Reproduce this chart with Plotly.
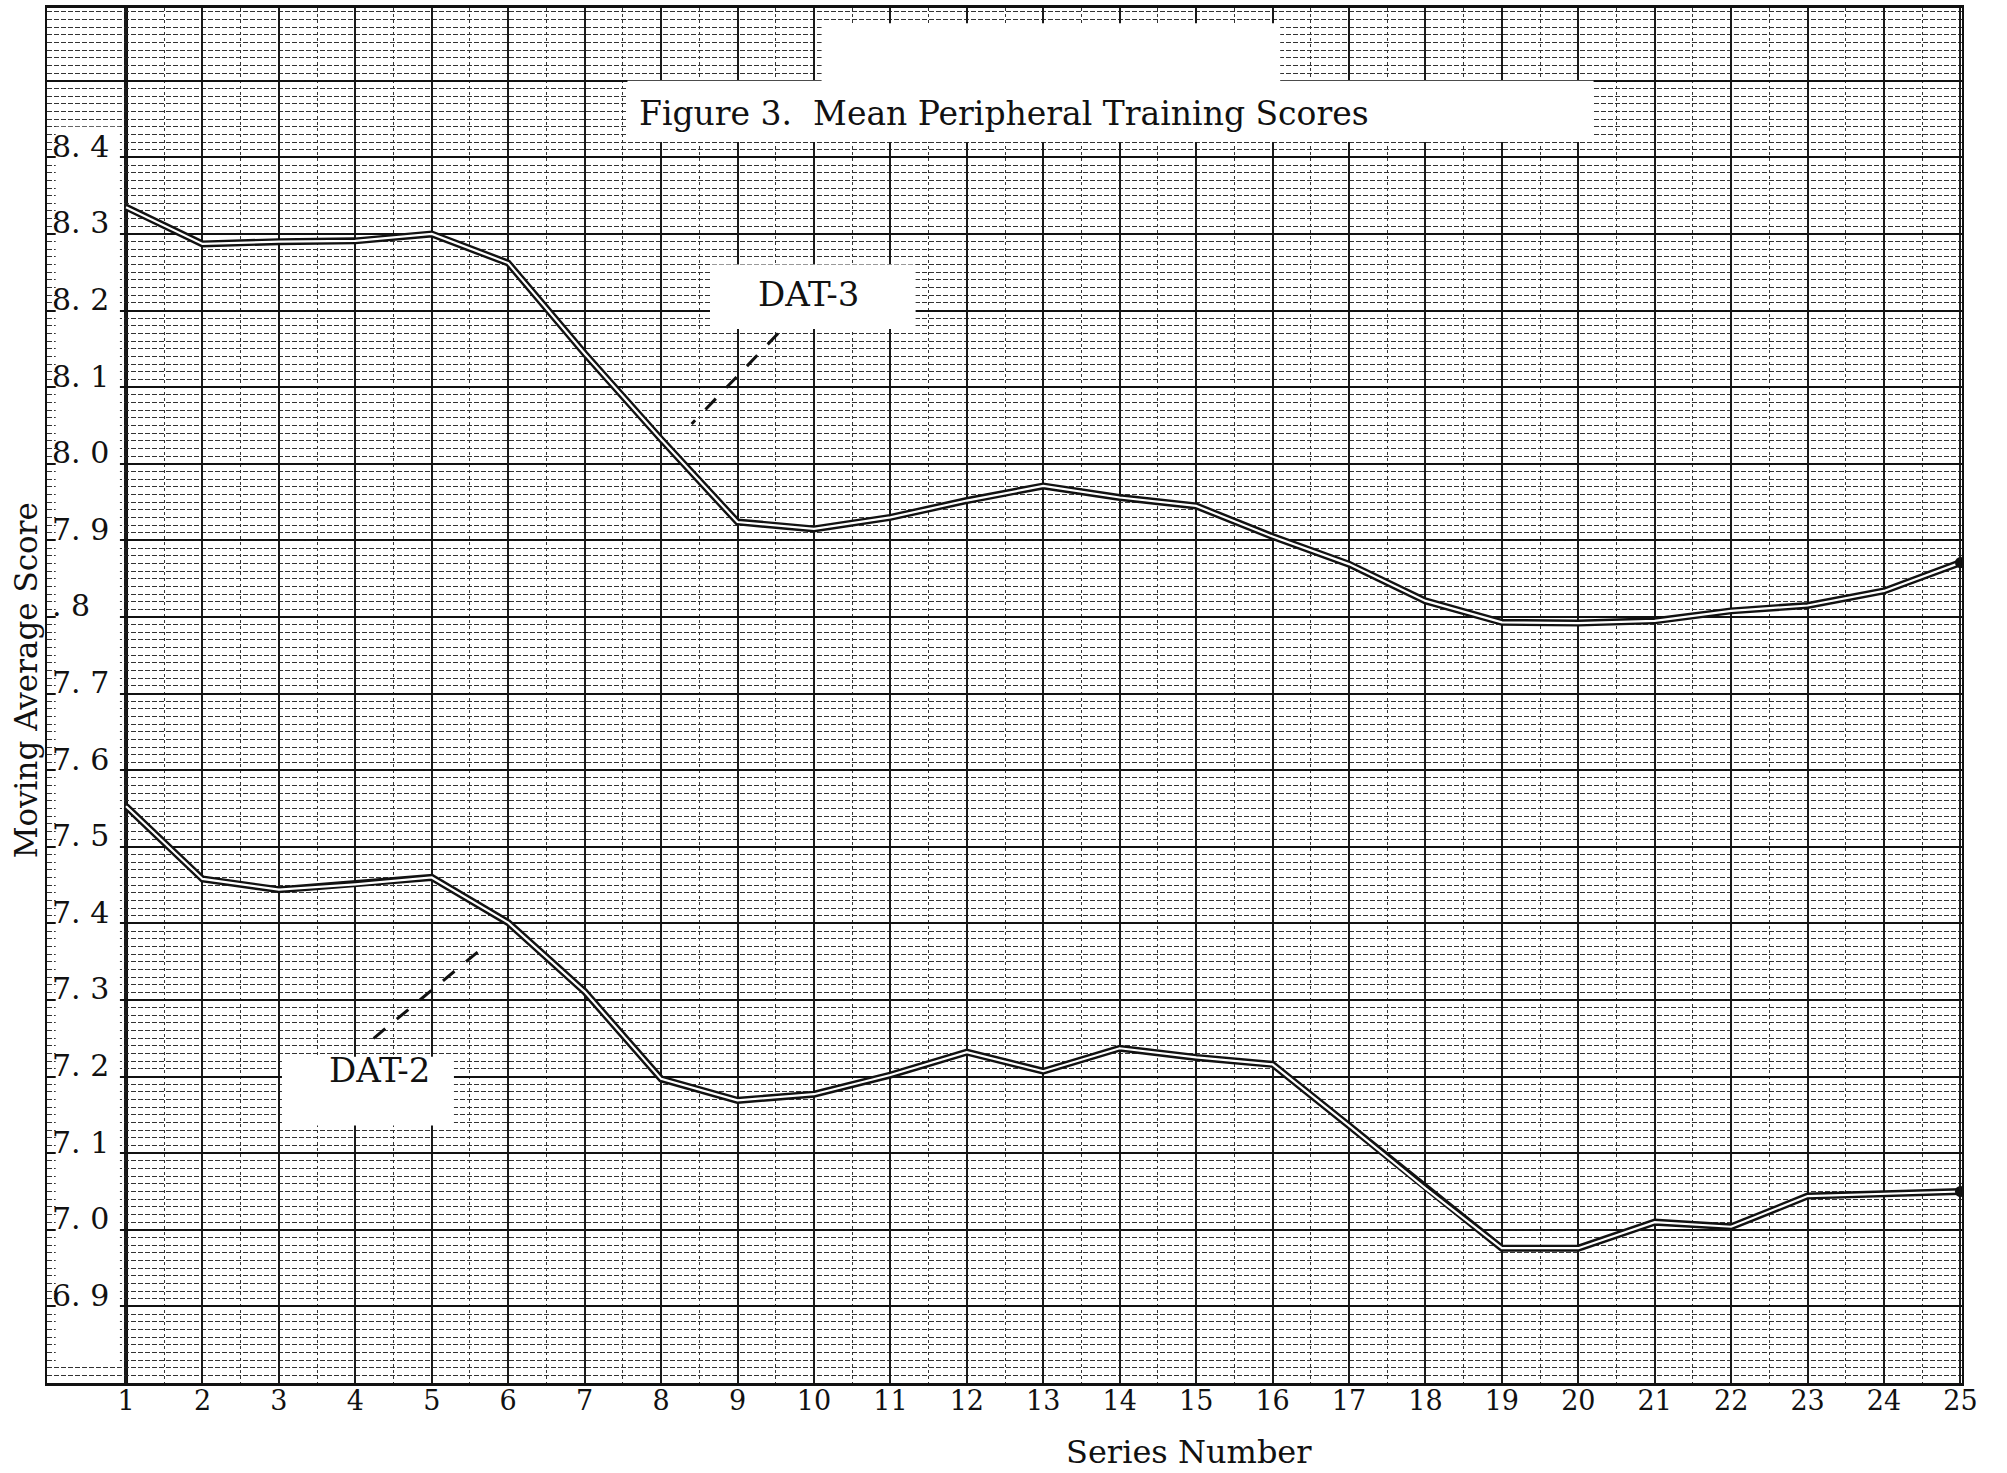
import plotly.graph_objects as go

# ---- data ----
series = list(range(1, 26))
series_labels = [str(s) for s in series]
dat3 = [8.335, 8.287, 8.290, 8.291, 8.300, 8.262, 8.144, 8.032, 7.924, 7.915,
        7.930, 7.952, 7.971, 7.956, 7.945, 7.905, 7.869, 7.821, 7.793, 7.792,
        7.795, 7.808, 7.815, 7.834, 7.871]
dat2 = [7.553, 7.458, 7.444, 7.451, 7.460, 7.401, 7.311, 7.197, 7.169, 7.177,
        7.202, 7.232, 7.207, 7.237, 7.225, 7.216, 7.136, 7.054, 6.976, 6.976,
        7.010, 7.004, 7.044, 7.047, 7.050]
y_tickvals = [6.8, 6.9, 7.0, 7.1, 7.2, 7.3, 7.4, 7.5, 7.6, 7.7, 7.8, 7.9,
              8.0, 8.1, 8.2, 8.3, 8.4, 8.5]
y_ticktext = ["", "6. 9", "7. 0", "7. 1", "7. 2", "7. 3", "7. 4", "7. 5", "7. 6",
              "7. 7", ". 8", "7. 9", "8. 0", "8. 1", "8. 2", "8. 3", "8. 4", ""]

FONT = "DejaVu Serif"
INK = "#111111"
X_RANGE = [-0.034, 25.02]
Y_RANGE = [6.80, 8.595]

fig = go.Figure()

for ys in (dat3, dat2):
    fig.add_trace(go.Scatter(x=series, y=ys, mode="lines",
                             line=dict(color=INK, width=7), hoverinfo="skip",
                             showlegend=False))
    fig.add_trace(go.Scatter(x=series, y=ys, mode="lines",
                             line=dict(color="white", width=2.2), hoverinfo="skip",
                             showlegend=False))
    fig.add_trace(go.Scatter(x=[series[-1]], y=[ys[-1]], mode="markers",
                             marker=dict(color=INK, size=11), hoverinfo="skip",
                             showlegend=False))

shapes = []
# white-out strip behind the y labels
shapes.append(dict(type="rect", xref="x", yref="y", x0=0.08, x1=0.92,
                   y0=6.826, y1=8.44,
                   fillcolor="white", line=dict(width=0), layer="between"))
# white-out blobs behind title and labels
shapes.append(dict(type="rect", xref="x", yref="y", x0=7.56, x1=20.2, y0=8.42, y1=8.50,
                   fillcolor="white", line=dict(width=0), layer="between"))
shapes.append(dict(type="rect", xref="x", yref="y", x0=10.1, x1=16.1, y0=8.48, y1=8.575,
                   fillcolor="white", line=dict(width=0), layer="between"))
shapes.append(dict(type="rect", xref="x", yref="y", x0=8.64, x1=11.33, y0=8.176, y1=8.26,
                   fillcolor="white", line=dict(width=0), layer="between"))
shapes.append(dict(type="rect", xref="x", yref="y", x0=3.04, x1=5.29, y0=7.136, y1=7.226,
                   fillcolor="white", line=dict(width=0), layer="between"))
# heavy vertical line at series 1
shapes.append(dict(type="line", xref="x", yref="paper", x0=1, x1=1, y0=0, y1=1,
                   line=dict(color=INK, width=4), layer="between"))
# leader lines
shapes.append(dict(type="line", xref="x", yref="y", x0=9.53, y0=8.17, x1=8.40, y1=8.052,
                   line=dict(color=INK, width=3, dash="longdash"), layer="above"))
shapes.append(dict(type="line", xref="x", yref="y", x0=4.24, y0=7.25, x1=5.69, y1=7.37,
                   line=dict(color=INK, width=3, dash="longdash"), layer="above"))

annotations = [
    dict(x=12.48, y=8.457, xref="x", yref="y",
         text="Figure 3.\u00a0\u00a0Mean Peripheral Training Scores",
         showarrow=False, font=dict(family=FONT, size=33, color=INK)),
    dict(x=9.93, y=8.222, xref="x", yref="y", text="DAT-3", showarrow=False,
         font=dict(family=FONT, size=34, color=INK)),
    dict(x=4.32, y=7.208, xref="x", yref="y", text="DAT-2", showarrow=False,
         font=dict(family=FONT, size=34, color=INK)),
    dict(x=14.91, y=-0.050, xref="x", yref="paper", text="Series Number", showarrow=False,
         yanchor="middle", font=dict(family=FONT, size=32, color=INK)),
    dict(x=-0.011, y=0.511, xref="paper", yref="paper", text="Moving Average Score",
         showarrow=False, textangle=-90, xanchor="center", yanchor="middle",
         font=dict(family=FONT, size=31, color=INK)),
]

fig.update_layout(
    width=2007, height=1473,
    margin=dict(l=47, r=45, t=8, b=90),
    paper_bgcolor="white", plot_bgcolor="white",
    shapes=shapes, annotations=annotations,
    showlegend=False,
    xaxis=dict(range=X_RANGE, tickmode="array", tickvals=series, ticktext=series_labels,
               automargin=False,
               showgrid=True, gridcolor="#1a1a1a", gridwidth=1.5, zeroline=False,
               showline=True, linecolor=INK, linewidth=3, mirror=True, ticks="",
               ticklabelstandoff=-8,
               tickfont=dict(family=FONT, size=27, color=INK),
               minor=dict(tickmode="linear", tick0=0, dtick=0.5, showgrid=True,
                          gridcolor="#333333", gridwidth=1, griddash="dot")),
    yaxis=dict(range=Y_RANGE, tickmode="array", tickvals=y_tickvals, ticktext=y_ticktext,
               automargin=False,
               showgrid=True, gridcolor="#111111", gridwidth=1.8, zeroline=False,
               showline=True, linecolor=INK, linewidth=2, mirror=True, ticks="",
               ticklabelposition="inside", ticklabelstandoff=8, ticklabelshift=-11,
               tickfont=dict(family=FONT, size=30, color=INK),
               minor=dict(tickmode="linear", tick0=6.8, dtick=0.01, showgrid=True,
                          gridcolor="#333333", gridwidth=1, griddash="5px,2px")),
)

fig.write_html("out.html", config={"displayModeBar": False},
               post_script="document.body.style.margin='0';document.body.style.overflow='hidden';")
